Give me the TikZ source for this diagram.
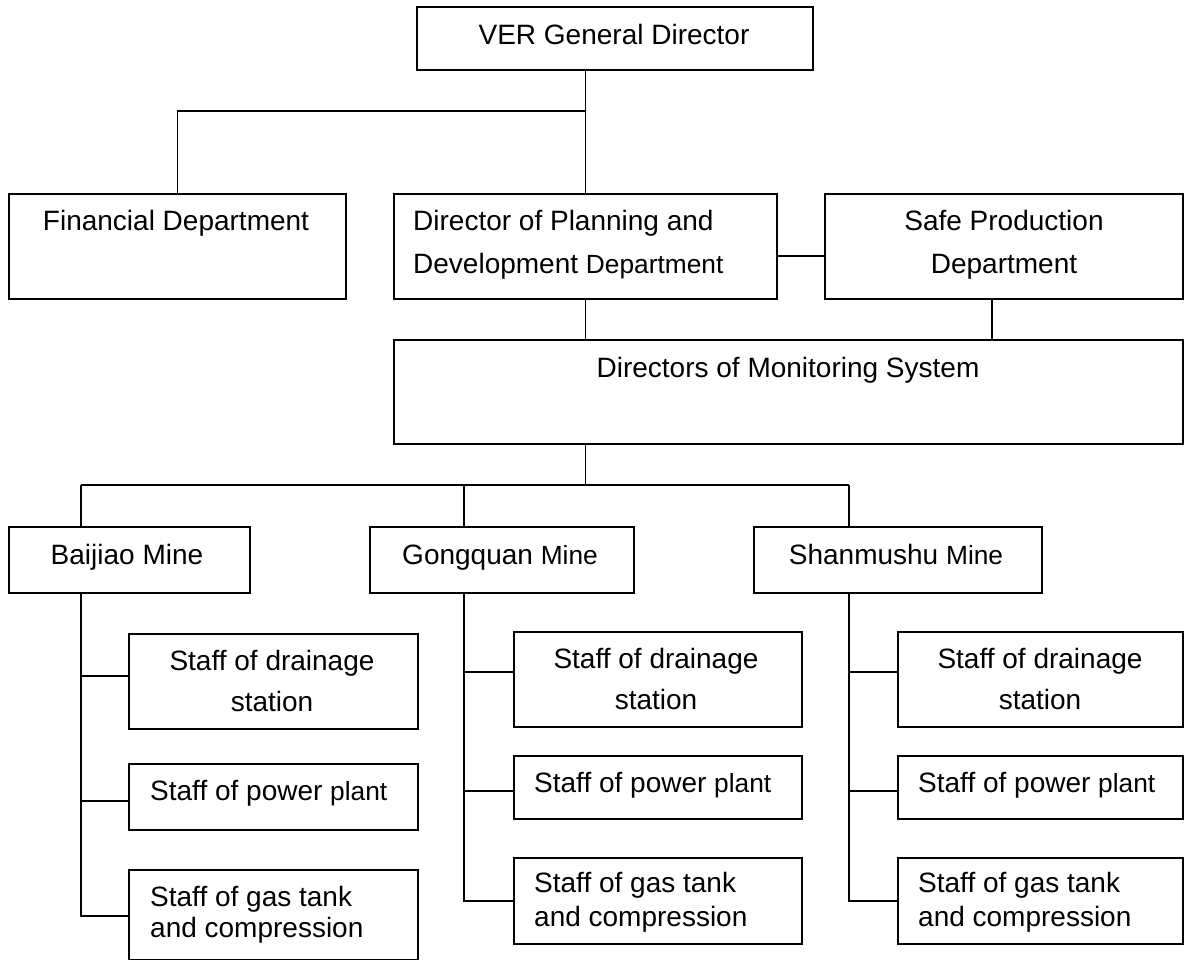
\documentclass[tikz,border=0pt]{standalone}
\usepackage{fontspec}
\setmainfont{Liberation Sans}
\newcommand\altf{\fontsize{26.3}{30}\selectfont}
\begin{document}
\begin{tikzpicture}[x=1pt,y=-1pt,
  box/.style={draw, line width=1.8pt, inner sep=0pt, anchor=north west},
  txt/.style={font=\fontsize{28}{34}\selectfont, inner sep=0pt, anchor=base},
  txtl/.style={txt, anchor=base west},
  lnk/.style={line width=1.8pt}]
\useasboundingbox (0,0) rectangle (1184,960);
% boxes
\node[box,minimum width=396,minimum height=63] (vgd) at (416,6) {};
\node[box,minimum width=337,minimum height=105] (fin) at (8,193) {};
\node[box,minimum width=383,minimum height=105] (plan) at (393,193) {};
\node[box,minimum width=358,minimum height=105] (safe) at (824,193) {};
\node[box,minimum width=789,minimum height=104] (mon) at (393,339) {};
\node[box,minimum width=241,minimum height=66] (bj) at (8,526) {};
\node[box,minimum width=264,minimum height=66] (gq) at (369,526) {};
\node[box,minimum width=288,minimum height=66] (sm) at (753,526) {};
\node[box,minimum width=289,minimum height=95] (bj1) at (128,633) {};
\node[box,minimum width=289,minimum height=66] (bj2) at (128,763) {};
\node[box,minimum width=289,minimum height=90] (bj3) at (128,869) {};
\node[box,minimum width=288,minimum height=95] (gq1) at (513,631) {};
\node[box,minimum width=288,minimum height=63] (gq2) at (513,755) {};
\node[box,minimum width=288,minimum height=86] (gq3) at (513,857) {};
\node[box,minimum width=285,minimum height=95] (sm1) at (897,631) {};
\node[box,minimum width=285,minimum height=63] (sm2) at (897,755) {};
\node[box,minimum width=285,minimum height=86] (sm3) at (897,857) {};
% texts
\node[txt] (tvgd) at (614,45) {VER General Director};
\node[txt] (tfin) at (176,231) {Financial Department};
\node[txtl] (tplan1) at (413,231) {Director of Planning and};
\node[txtl] (tplan2) at (413,273) {Development {\altf Department}};
\node[txt] (tsafe1) at (1004,231) {Safe Production};
\node[txt] (tsafe2) at (1004,273) {Department};
\node[txt] (tmon) at (788,377) {Directors of Monitoring System};
\node[txt] (tbj) at (127,564) {Baijiao Mine};
\node[txt] (tgq) at (500,564) {Gongquan {\altf Mine}};
\node[txt] (tsm) at (896,564) {Shanmushu {\altf Mine}};
\node[txt] (tbj1a) at (272,670) {Staff of drainage};
\node[txt] (tbj1b) at (272,711) {station};
\node[txtl] (tbj2) at (150,800) {Staff of power {\altf plant}};
\node[txtl] (tbj3a) at (150,906) {Staff of gas tank};
\node[txtl] (tbj3b) at (150,937) {and compression};
\node[txt] (tgq1a) at (656,668) {Staff of drainage};
\node[txt] (tgq1b) at (656,709) {station};
\node[txtl] (tgq2) at (534,792) {Staff of power {\altf plant}};
\node[txtl] (tgq3a) at (534,892) {Staff of gas tank};
\node[txtl] (tgq3b) at (534,926) {and compression};
\node[txt] (tsm1a) at (1040,668) {Staff of drainage};
\node[txt] (tsm1b) at (1040,709) {station};
\node[txtl] (tsm2) at (918,792) {Staff of power {\altf plant}};
\node[txtl] (tsm3a) at (918,892) {Staff of gas tank};
\node[txtl] (tsm3b) at (918,926) {and compression};
% junction coordinates
\coordinate (j1) at (plan.north |- 0,111);
\coordinate (j2) at (plan.south |- 0,485);
\coordinate (jb) at (81,485);
\coordinate (jg) at (464,485);
\coordinate (js) at (849,485);
% connectors
\draw[lnk] (vgd.south -| plan.north) -- (plan.north);
\draw[lnk] (fin.north) |- (j1);
\draw[lnk] (plan.east |- 0,256) -- (safe.west |- 0,256);
\draw[lnk] (plan.south) -- (plan.south |- mon.north);
\draw[lnk] (safe.south -| 992,0) -- (mon.north -| 992,0);
\draw[lnk] (mon.south -| j2) -- (j2);
\draw[lnk] (jb) -- (js);
\draw[lnk] (jb) -- (bj.north -| jb);
\draw[lnk] (jg) -- (gq.north -| jg);
\draw[lnk] (js) -- (sm.north -| js);
% Baijiao
\draw[lnk] (bj.south -| jb) -- (jb |- 0,916) -- (bj3.west |- 0,916);
\draw[lnk] (jb |- 0,676) -- (bj1.west |- 0,676);
\draw[lnk] (jb |- 0,801) -- (bj2.west |- 0,801);
% Gongquan
\draw[lnk] (gq.south -| jg) -- (jg |- 0,901) -- (gq3.west |- 0,901);
\draw[lnk] (jg |- 0,672) -- (gq1.west |- 0,672);
\draw[lnk] (jg |- 0,791) -- (gq2.west |- 0,791);
% Shanmushu
\draw[lnk] (sm.south -| js) -- (js |- 0,901) -- (sm3.west |- 0,901);
\draw[lnk] (js |- 0,672) -- (sm1.west |- 0,672);
\draw[lnk] (js |- 0,791) -- (sm2.west |- 0,791);
\end{tikzpicture}
\end{document}
